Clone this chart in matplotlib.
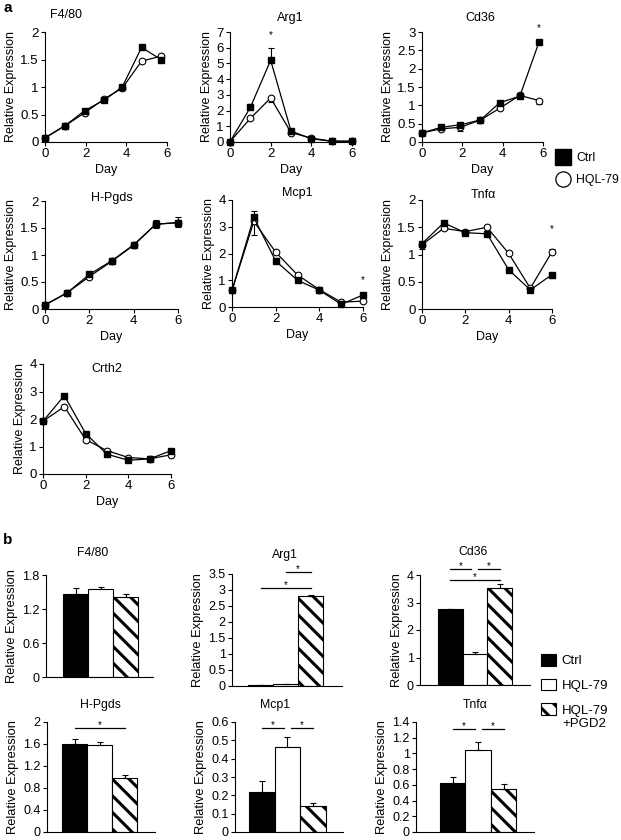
import numpy as np
import matplotlib
matplotlib.use('Agg')
import matplotlib.pyplot as plt
from matplotlib.ticker import FormatStrFormatter, MultipleLocator
from matplotlib.lines import Line2D
from matplotlib.patches import Patch

plt.rcParams['font.family'] = ['Liberation Sans', 'DejaVu Sans']
plt.rcParams['hatch.linewidth'] = 2.2

# ---- panel a: time course (day 0-6) ----
days = [0, 1, 2, 3, 4, 5, 6]
days_f480 = [0, 1, 1.95, 2.9, 3.8, 4.75, 5.7]
days_cd36 = [0, 0.95, 1.9, 2.9, 3.85, 4.85, 5.8]

f480_ctrl = [0.08, 0.30, 0.57, 0.76, 1.00, 1.72, 1.50]
f480_hql = [0.07, 0.30, 0.53, 0.78, 0.98, 1.47, 1.56]
f480_ctrl_err = [0, 0.02, 0.03, 0.02, 0.03, 0.05, -0.05]
f480_hql_err = [0, 0, 0, 0, 0, 0, 0]

arg1_ctrl = [0.02, 2.2, 5.2, 0.7, 0.2, 0.05, 0.05]
arg1_hql = [0.02, 1.5, 2.8, 0.6, 0.25, 0.05, 0.05]
arg1_ctrl_err = [0, 0.25, 0.8, 0.1, 0, 0, 0]
arg1_hql_err = [0, 0, -0.25, 0, 0, 0, 0]

cd36_ctrl = [0.25, 0.40, 0.47, 0.60, 1.07, 1.25, 2.72]
cd36_hql = [0.25, 0.36, 0.40, 0.60, 0.92, 1.27, 1.13]
cd36_ctrl_err = [0, 0.02, 0.03, 0.02, 0.05, 0.05, 0.05]
cd36_hql_err = [0, 0, -0.1, 0, 0, -0.08, -0.1]

hpgds_ctrl = [0.08, 0.30, 0.64, 0.89, 1.19, 1.57, 1.60]
hpgds_hql = [0.07, 0.30, 0.60, 0.88, 1.18, 1.57, 1.60]
hpgds_ctrl_err = [0, 0.02, 0.04, 0.04, 0.03, 0.07, 0.1]
hpgds_hql_err = [0, 0, -0.05, -0.05, 0, -0.07, -0.08]

mcp1_ctrl = [0.62, 3.35, 1.72, 1.00, 0.63, 0.10, 0.45]
mcp1_hql = [0.62, 3.20, 2.05, 1.20, 0.65, 0.18, 0.22]
mcp1_ctrl_err = [0, 0.25, 0, 0, 0, 0, 0.05]
mcp1_hql_err = [0, -0.5, 0, 0, 0, 0, 0]

tnf_ctrl = [1.20, 1.58, 1.40, 1.38, 0.72, 0.35, 0.63]
tnf_hql = [1.18, 1.48, 1.42, 1.50, 1.02, 0.38, 1.05]
tnf_ctrl_err = [0, 0.03, 0, 0, 0, 0, -0.07]
tnf_hql_err = [-0.08, 0, 0, 0.05, 0, 0, 0.06]

crth2_ctrl = [1.92, 2.85, 1.47, 0.72, 0.50, 0.55, 0.85]
crth2_hql = [1.92, 2.45, 1.25, 0.85, 0.60, 0.55, 0.70]
crth2_ctrl_err = [0, 0.05, 0.05, 0, 0, 0, 0.05]
crth2_hql_err = [0, 0, 0, 0, 0, 0, 0]

# significance stars (day, height)
arg1_star = (2, 6.8)
cd36_star = (5.8, 3.1)
mcp1_star = (6, 1.0)
tnf_star = (6, 1.46)

# ---- panel b: bars Ctrl / HQL-79 / HQL-79+PGD2 ----
groups_b = ['Ctrl', 'HQL-79', 'HQL-79\n+PGD2']
genes_b = ['F4/80', 'Arg1', 'Cd36', 'H-Pgds', 'Mcp1', 'Tnfα']
ctrl_b = [1.47, 0.04, 2.75, 1.60, 0.22, 0.63]
hql_b = [1.56, 0.05, 1.12, 1.58, 0.465, 1.05]
pgd2_b = [1.42, 2.80, 3.52, 0.99, 0.14, 0.55]
ctrl_b_err = [0.10, 0.0, 0.02, 0.10, 0.06, 0.07]
hql_b_err = [0.03, 0.02, 0.08, 0.05, 0.055, 0.09]
pgd2_b_err = [0.05, 0.05, 0.15, 0.05, 0.02, 0.06]
ymax_b = [1.8, 3.5, 4, 2, 0.6, 1.4]
ystep_b = [0.6, 0.5, 1, 0.4, 0.1, 0.2]
# significance lines: (from bar, to bar, height)
sig_b = [
    [],
    [(0, 2, 3.05), (1, 2, 3.55)],
    [(0, 0.85, 4.22), (1.12, 2, 4.22), (0, 2, 3.82)],
    [(0, 2, 1.89)],
    [(0, 0.88, 0.565), (1.15, 2, 0.565)],
    [(0, 0.88, 1.316), (1.15, 2, 1.316)],
]

W, H = 621, 840
fig = plt.figure(figsize=(W / 100, H / 100), dpi=100)


def px_axes(left, top, right, bottom):
    return fig.add_axes([left / W, 1 - bottom / H, (right - left) / W, (bottom - top) / H])


def style(ax, size):
    for s in ['top', 'right']:
        ax.spines[s].set_visible(False)
    for s in ['left', 'bottom']:
        ax.spines[s].set_linewidth(0.8)
    ax.tick_params(direction='out', length=3, width=0.8, labelsize=size, pad=1.5)
    ax.yaxis.set_major_formatter(FormatStrFormatter('%g'))


def title_px(text, x, y, size):
    fig.text(x / W, 1 - y / H, text, ha='center', va='center', fontsize=size)


def draw_err(ax, x, y, err):
    err = np.array(err, dtype=float)
    keep = err != 0
    if not keep.any():
        return
    lo = np.clip(-err, 0, None)[keep]
    hi = np.clip(err, 0, None)[keep]
    ax.errorbar(np.array(x)[keep], np.array(y)[keep], yerr=[lo, hi], fmt='none',
                ecolor='black', elinewidth=0.8, capsize=2, capthick=0.8, clip_on=False, zorder=2)


def time_panel(box, x, ctrl, hql, ctrl_err, hql_err, ymax, ystep, name, tpos, star=None):
    ax = px_axes(*box)
    draw_err(ax, x, hql, hql_err)
    draw_err(ax, x, ctrl, ctrl_err)
    ax.plot(x, hql, '-o', color='black', mfc='white', mec='black', mew=0.8, ms=4.8, lw=0.9,
            clip_on=False, zorder=3)
    ax.plot(x, ctrl, '-s', color='black', ms=4.6, lw=0.9, clip_on=False, zorder=4)
    ax.set_xlim(0, 6)
    ax.set_ylim(0, ymax)
    ax.xaxis.set_major_locator(MultipleLocator(2))
    ax.yaxis.set_major_locator(MultipleLocator(ystep))
    style(ax, 9.5)
    ax.set_xlabel('Day', fontsize=9, labelpad=3)
    ax.set_ylabel('Relative Expression', fontsize=9, labelpad=2)
    if star:
        ax.text(star[0], star[1], '*', ha='center', va='center', fontsize=7, clip_on=False)
    title_px(name, tpos[0], tpos[1], 9)
    return ax


time_panel((45, 32, 167, 142), days_f480, f480_ctrl, f480_hql, f480_ctrl_err, f480_hql_err,
           2, 0.5, 'F4/80', (66, 15))
time_panel((230, 32, 352, 142), days, arg1_ctrl, arg1_hql, arg1_ctrl_err, arg1_hql_err,
           7, 1, 'Arg1', (290, 18), arg1_star)
time_panel((422, 32, 543, 142), days_cd36, cd36_ctrl, cd36_hql, cd36_ctrl_err, cd36_hql_err,
           3, 0.5, 'Cd36', (480, 18), cd36_star)
time_panel((45, 201, 178, 309), days, hpgds_ctrl, hpgds_hql, hpgds_ctrl_err, hpgds_hql_err,
           2, 0.5, 'H-Pgds', (112, 198))
time_panel((232, 200, 363, 307), days, mcp1_ctrl, mcp1_hql, mcp1_ctrl_err, mcp1_hql_err,
           4, 1, 'Mcp1', (297, 193), mcp1_star)
time_panel((422, 200, 552, 309), days, tnf_ctrl, tnf_hql, tnf_ctrl_err, tnf_hql_err,
           2, 0.5, 'Tnfα', (483, 195), tnf_star)
time_panel((43, 364, 171, 474), days, crth2_ctrl, crth2_hql, crth2_ctrl_err, crth2_hql_err,
           4, 1, 'Crth2', (107, 369))

# legend for panel a
fig.legend([Line2D([], [], ls='none', marker='s', ms=11, color='black'),
            Line2D([], [], ls='none', marker='o', ms=11, mfc='white', mec='black', mew=0.9)],
           ['Ctrl', 'HQL-79'], loc='upper left', bbox_to_anchor=(556 / W, 1 - 152 / H),
           frameon=False, fontsize=8.8, handlelength=1.2, handletextpad=0.45,
           labelspacing=0.85, borderpad=0, borderaxespad=0)

# ---- panel b ----
b_boxes = [(46, 575, 153, 677), (232, 574, 342, 686), (420, 575, 530, 685),
           (47, 722, 155, 832), (235, 722, 343, 832), (416, 722, 534, 832)]
b_xlims = [(-1.18, 3.1), (-1.14, 3.26), (-1.23, 3.23), (-1.1, 3.22), (-1.04, 3.16), (-1.45, 3.2)]
b_titles = [(93, 553), (285, 555), (473, 552), (100, 705), (275, 705), (475, 705)]

pos = np.arange(3)
for i, gene in enumerate(genes_b):
    ax = px_axes(*b_boxes[i])
    vals = [ctrl_b[i], hql_b[i], pgd2_b[i]]
    errs = [ctrl_b_err[i], hql_b_err[i], pgd2_b_err[i]]
    bars = ax.bar(pos, vals, width=1.0, color=['black', 'white', 'white'],
                  edgecolor='black', linewidth=0.8, zorder=2)
    bars[2].set_hatch('\\\\')
    ax.errorbar(pos, vals, yerr=[np.zeros(3), errs], fmt='none', ecolor='black',
                elinewidth=0.8, capsize=2, capthick=0.8, zorder=3)
    for x1, x2, y in sig_b[i]:
        ax.plot([x1, x2], [y, y], color='black', lw=0.9, clip_on=False)
        ax.annotate('*', xy=((x1 + x2) / 2, y), xytext=(0, -1.5), textcoords='offset points',
                    ha='center', va='bottom', fontsize=7, annotation_clip=False)
    ax.set_xlim(*b_xlims[i])
    ax.set_ylim(0, ymax_b[i])
    ax.set_xticks([])
    ax.yaxis.set_major_locator(MultipleLocator(ystep_b[i]))
    style(ax, 9)
    ax.set_ylabel('Relative Expression', fontsize=9.3, labelpad=3)
    title_px(gene, b_titles[i][0], b_titles[i][1], 8.8)

# legend for panel b: first line of each label next to its key
fig.legend([Patch(facecolor='black', edgecolor='black', lw=0.8),
            Patch(facecolor='white', edgecolor='black', lw=0.8),
            Patch(facecolor='white', edgecolor='black', lw=0.8, hatch='\\\\')],
           [g.split('\n')[0] for g in groups_b], loc='upper left',
           bbox_to_anchor=(541 / W, 1 - 654 / H),
           frameon=False, fontsize=9.5, handlelength=1.15, handleheight=1.0,
           handletextpad=0.4, labelspacing=0.85, borderpad=0, borderaxespad=0)
fig.text(562 / W, 1 - 724 / H, groups_b[2].split('\n')[1], fontsize=9.5, va='center')

fig.text(3 / W, 1 - 8 / H, 'a', fontsize=11, fontweight='bold', va='center')
fig.text(3 / W, 1 - 540 / H, 'b', fontsize=11, fontweight='bold', va='center')

fig.savefig('out.png', dpi=100)
